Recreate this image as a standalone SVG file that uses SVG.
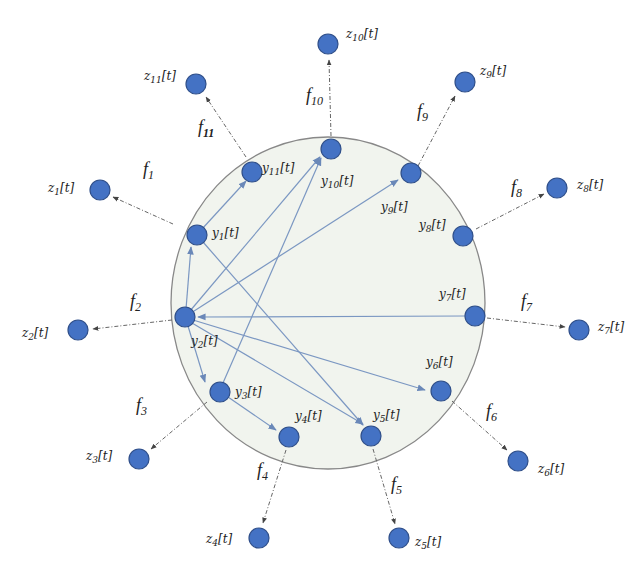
<svg xmlns="http://www.w3.org/2000/svg" width="640" height="577" viewBox="0 0 640 577">
<style>
.n{fill:#4472c4;stroke:#2f4f8a;stroke-width:1.2}
.e{stroke:#7b97c2;stroke-width:1.2;fill:none}
.d{stroke:#666;stroke-width:1;stroke-dasharray:4,2,1,2;fill:none}
text{font-family:"DejaVu Serif","Liberation Serif",serif;font-style:italic;fill:#222}
.y{font-size:12px}.f{font-size:18px;font-family:"Liberation Serif",serif}
</style>
<defs>
<marker id="a" viewBox="0 0 10 10" refX="9" refY="5" markerWidth="7" markerHeight="7" orient="auto"><path d="M0,1L10,5L0,9z" fill="#6a88b8"/></marker>
<marker id="b" viewBox="0 0 10 10" refX="9" refY="5" markerWidth="6" markerHeight="6" orient="auto"><path d="M0,1L10,5L0,9z" fill="#444"/></marker>
</defs>
<rect width="640" height="577" fill="#fff"/>
<ellipse cx="328" cy="303" rx="157" ry="166" fill="#f1f4ee" stroke="#888" stroke-width="1.3"/>
<g id="connectors">
<line class="e" x1="202" y1="229" x2="246" y2="181" marker-end="url(#a)"/>
<line class="e" x1="203" y1="242" x2="363" y2="425" marker-end="url(#a)"/>
<line class="e" x1="186" y1="309" x2="191" y2="247" marker-end="url(#a)"/>
<line class="e" x1="190" y1="311" x2="320" y2="157" marker-end="url(#a)"/>
<line class="e" x1="191" y1="313" x2="398" y2="180" marker-end="url(#a)"/>
<line class="e" x1="465" y1="316" x2="198" y2="317" marker-end="url(#a)"/>
<line class="e" x1="193" y1="320" x2="425" y2="390" marker-end="url(#a)"/>
<line class="e" x1="192" y1="323" x2="363" y2="424" marker-end="url(#a)"/>
<line class="e" x1="188" y1="326" x2="205" y2="382" marker-end="url(#a)"/>
<line class="e" x1="223" y1="383" x2="321" y2="158" marker-end="url(#a)"/>
<line class="e" x1="228" y1="397" x2="276" y2="430" marker-end="url(#a)"/>
<line class="d" x1="173" y1="224" x2="113" y2="197" marker-end="url(#b)"/>
<line class="d" x1="246" y1="157" x2="206" y2="97" marker-end="url(#b)"/>
<line class="d" x1="331" y1="136" x2="329" y2="60" marker-end="url(#b)"/>
<line class="d" x1="418" y1="166" x2="455" y2="96" marker-end="url(#b)"/>
<line class="d" x1="476" y1="229" x2="544" y2="194" marker-end="url(#b)"/>
<line class="d" x1="487" y1="318" x2="565" y2="327" marker-end="url(#b)"/>
<line class="d" x1="452" y1="401" x2="507" y2="450" marker-end="url(#b)"/>
<line class="d" x1="373" y1="449" x2="395" y2="524" marker-end="url(#b)"/>
<line class="d" x1="286" y1="450" x2="263" y2="523" marker-end="url(#b)"/>
<line class="d" x1="207" y1="402" x2="151" y2="449" marker-end="url(#b)"/>
<line class="d" x1="172" y1="320" x2="93" y2="329" marker-end="url(#b)"/>
</g>
<g id="y1"><circle class="n" cx="197" cy="235" r="10"/><text class="y" x="212" y="237">y<tspan font-size="9" dy="3">1</tspan><tspan dy="-3">[t]</tspan></text></g>
<g id="y11"><circle class="n" cx="252" cy="172" r="10"/><text class="y" x="262" y="172">y<tspan font-size="9" dy="3">11</tspan><tspan dy="-3">[t]</tspan></text></g>
<g id="y10"><circle class="n" cx="331" cy="149" r="10"/><text class="y" x="321" y="185">y<tspan font-size="9" dy="3">10</tspan><tspan dy="-3">[t]</tspan></text></g>
<g id="y9"><circle class="n" cx="411" cy="173" r="10"/><text class="y" x="381" y="211">y<tspan font-size="9" dy="3">9</tspan><tspan dy="-3">[t]</tspan></text></g>
<g id="y8"><circle class="n" cx="463" cy="236" r="10"/><text class="y" x="419" y="229">y<tspan font-size="9" dy="3">8</tspan><tspan dy="-3">[t]</tspan></text></g>
<g id="y7"><circle class="n" cx="475" cy="316" r="10"/><text class="y" x="439" y="298">y<tspan font-size="9" dy="3">7</tspan><tspan dy="-3">[t]</tspan></text></g>
<g id="y6"><circle class="n" cx="441" cy="391" r="10"/><text class="y" x="426" y="366">y<tspan font-size="9" dy="3">6</tspan><tspan dy="-3">[t]</tspan></text></g>
<g id="y5"><circle class="n" cx="371" cy="436" r="10"/><text class="y" x="373" y="419">y<tspan font-size="9" dy="3">5</tspan><tspan dy="-3">[t]</tspan></text></g>
<g id="y4"><circle class="n" cx="289" cy="437" r="10"/><text class="y" x="295" y="420">y<tspan font-size="9" dy="3">4</tspan><tspan dy="-3">[t]</tspan></text></g>
<g id="y3"><circle class="n" cx="220" cy="392" r="10"/><text class="y" x="235" y="396">y<tspan font-size="9" dy="3">3</tspan><tspan dy="-3">[t]</tspan></text></g>
<g id="y2"><circle class="n" cx="185" cy="317" r="10"/><text class="y" x="191" y="345">y<tspan font-size="9" dy="3">2</tspan><tspan dy="-3">[t]</tspan></text></g>
<g id="z1"><circle class="n" cx="100" cy="190" r="10"/><text class="y" x="48" y="192">z<tspan font-size="9" dy="3">1</tspan><tspan dy="-3">[t]</tspan></text><text class="f" x="143" y="175">f<tspan font-size="12" dy="4">1</tspan></text></g>
<g id="z11"><circle class="n" cx="196" cy="84" r="10"/><text class="y" x="144" y="80">z<tspan font-size="9" dy="3">11</tspan><tspan dy="-3">[t]</tspan></text><text class="f" x="198" y="133">f<tspan font-size="12" dy="4" font-weight="bold">11</tspan></text></g>
<g id="z10"><circle class="n" cx="328" cy="44" r="10"/><text class="y" x="346" y="38">z<tspan font-size="9" dy="3">10</tspan><tspan dy="-3">[t]</tspan></text><text class="f" x="306" y="101">f<tspan font-size="12" dy="4">10</tspan></text></g>
<g id="z9"><circle class="n" cx="465" cy="82" r="10"/><text class="y" x="480" y="75">z<tspan font-size="9" dy="3">9</tspan><tspan dy="-3">[t]</tspan></text><text class="f" x="417" y="117">f<tspan font-size="12" dy="4">9</tspan></text></g>
<g id="z8"><circle class="n" cx="557" cy="188" r="10"/><text class="y" x="577" y="189">z<tspan font-size="9" dy="3">8</tspan><tspan dy="-3">[t]</tspan></text><text class="f" x="511" y="193">f<tspan font-size="12" dy="4">8</tspan></text></g>
<g id="z7"><circle class="n" cx="579" cy="330" r="10"/><text class="y" x="598" y="331">z<tspan font-size="9" dy="3">7</tspan><tspan dy="-3">[t]</tspan></text><text class="f" x="521" y="307">f<tspan font-size="12" dy="4">7</tspan></text></g>
<g id="z6"><circle class="n" cx="518" cy="461" r="10"/><text class="y" x="538" y="473">z<tspan font-size="9" dy="3">6</tspan><tspan dy="-3">[t]</tspan></text><text class="f" x="486" y="417">f<tspan font-size="12" dy="4">6</tspan></text></g>
<g id="z5"><circle class="n" cx="399" cy="538" r="10"/><text class="y" x="415" y="546">z<tspan font-size="9" dy="3">5</tspan><tspan dy="-3">[t]</tspan></text><text class="f" x="391" y="490">f<tspan font-size="12" dy="4">5</tspan></text></g>
<g id="z4"><circle class="n" cx="259" cy="538" r="10"/><text class="y" x="206" y="543">z<tspan font-size="9" dy="3">4</tspan><tspan dy="-3">[t]</tspan></text><text class="f" x="257" y="476">f<tspan font-size="12" dy="4">4</tspan></text></g>
<g id="z3"><circle class="n" cx="139" cy="459" r="10"/><text class="y" x="86" y="460">z<tspan font-size="9" dy="3">3</tspan><tspan dy="-3">[t]</tspan></text><text class="f" x="136" y="411">f<tspan font-size="12" dy="4">3</tspan></text></g>
<g id="z2"><circle class="n" cx="78" cy="330" r="10"/><text class="y" x="22" y="337">z<tspan font-size="9" dy="3">2</tspan><tspan dy="-3">[t]</tspan></text><text class="f" x="130" y="307">f<tspan font-size="12" dy="4">2</tspan></text></g>
</svg>
